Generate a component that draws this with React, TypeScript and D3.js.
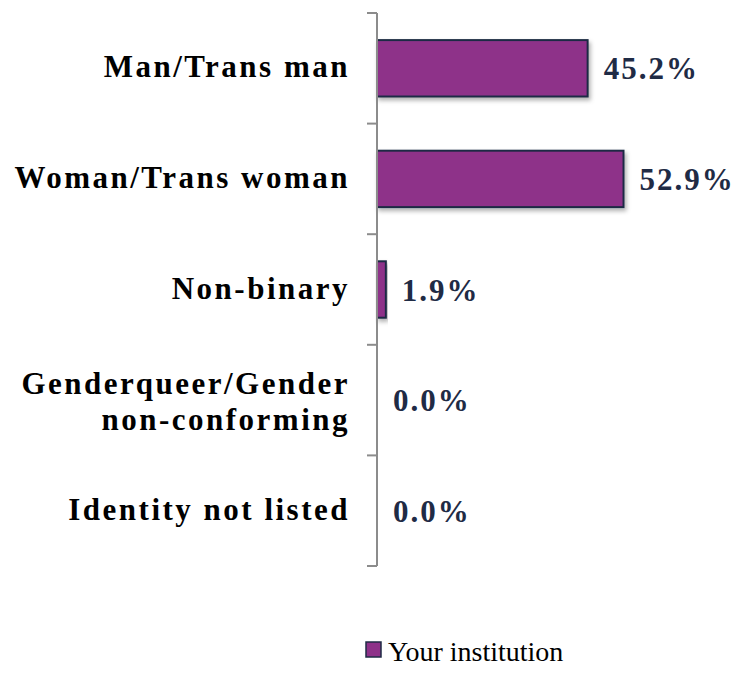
import { useEffect, useRef } from "react";
import * as d3 from "d3";

const categories = [
  "Man/Trans man",
  "Woman/Trans woman",
  "Non-binary",
  "Genderqueer/Gender non-conforming",
  "Identity not listed",
];
const labelLines = [
  ["Man/Trans man"],
  ["Woman/Trans woman"],
  ["Non-binary"],
  ["Genderqueer/Gender", "non-conforming"],
  ["Identity not listed"],
];
const values = [45.2, 52.9, 1.9, 0.0, 0.0];
const seriesName = "Your institution";

const W = 737;
const H = 687;
const SERIF = "'Liberation Serif', 'DejaVu Serif', 'Times New Roman', serif";

function App() {
  const ref = useRef<SVGSVGElement>(null);

  useEffect(() => {
    const svg = d3.select(ref.current);
    svg.selectAll("*").remove();

    const axisX = 377;
    const top = 13;
    const bottom = 566;

    const y = d3.scaleBand<string>()
      .domain(categories)
      .range([top, bottom])
      .paddingInner(0.49)
      .paddingOuter(0.245);

    const x = d3.scaleLinear()
      .domain([0, 60])
      .range([axisX, axisX + 60 * 4.66]);

    const defs = svg.append("defs");
    const f = defs.append("filter").attr("id", "shadow")
      .attr("x", "-20%").attr("y", "-20%").attr("width", "140%").attr("height", "150%");
    f.append("feDropShadow")
      .attr("dx", 2).attr("dy", 3).attr("stdDeviation", 2)
      .attr("flood-color", "#000").attr("flood-opacity", 0.3);

    // bars
    svg.append("g")
      .selectAll("rect")
      .data(categories.map((c, i) => ({ c, v: values[i] })).filter(d => d.v > 0))
      .join("rect")
      .attr("x", x(0))
      .attr("y", d => y(d.c)!)
      .attr("width", d => x(d.v) - x(0))
      .attr("height", y.bandwidth())
      .attr("fill", "#8E3189")
      .attr("stroke", "#1F2B45")
      .attr("stroke-width", 2)
      .attr("filter", "url(#shadow)");

    // axis line + ticks
    const step = y.step();
    const g = svg.append("g").attr("stroke", "#8C8C8C").attr("stroke-width", 2);
    g.append("line").attr("x1", axisX).attr("x2", axisX).attr("y1", top).attr("y2", bottom);
    g.selectAll("line.tick")
      .data(d3.range(categories.length + 1))
      .join("line")
      .attr("class", "tick")
      .attr("x1", axisX - 10)
      .attr("x2", axisX)
      .attr("y1", i => top + i * step)
      .attr("y2", i => top + i * step);

    // value labels
    svg.append("g")
      .selectAll("text")
      .data(values)
      .join("text")
      .attr("x", d => x(d) + 16)
      .attr("y", (d, i) => y(categories[i])! + y.bandwidth() / 2 + 11)
      .style("font-family", SERIF)
      .style("font-weight", "bold")
      .style("font-size", "31px")
      .style("letter-spacing", "2px")
      .attr("fill", "#1F2B45")
      .text(d => d.toFixed(1) + "%");

    // category labels
    const lab = svg.append("g")
      .style("font-family", SERIF)
      .style("font-weight", "bold")
      .style("font-size", "31px")
      .style("letter-spacing", "2.5px")
      .attr("fill", "#000")
      .attr("text-anchor", "end");
    labelLines.forEach((lines, i) => {
      const cy = y(categories[i])! + y.bandwidth() / 2;
      const lh = 36;
      const base = cy + 9 - ((lines.length - 1) * lh) / 2 + (lines.length > 1 ? 3 : 0);
      const t = lab.append("text");
      lines.forEach((ln, j) => {
        t.append("tspan")
          .attr("x", 350)
          .attr("y", base + j * lh)
          .text(ln);
      });
    });

    // legend
    const lg = svg.append("g");
    lg.append("rect")
      .attr("x", 366).attr("y", 642).attr("width", 15).attr("height", 15)
      .attr("fill", "#8E3189").attr("stroke", "#1F2B45").attr("stroke-width", 1.5);
    lg.append("text")
      .attr("x", 388).attr("y", 661)
      .style("font-family", SERIF)
      .style("font-size", "28px")
      .attr("fill", "#000")
      .text(seriesName);
  }, []);

  return (
    <svg
      ref={ref}
      width={W}
      height={H}
      style={{ position: "absolute", left: 0, top: 0, background: "#fff" }}
    />
  );
}

export default App;
